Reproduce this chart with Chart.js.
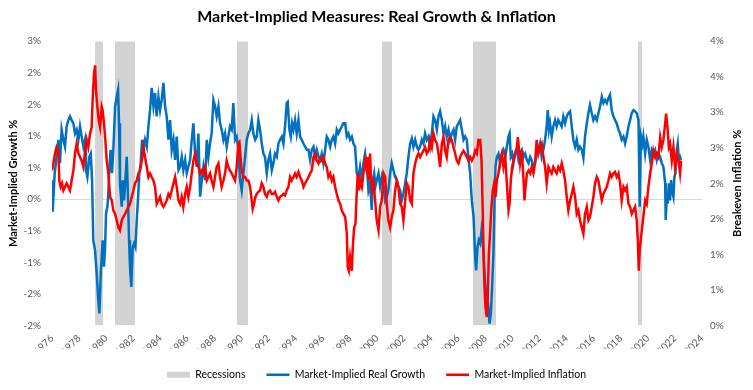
<!DOCTYPE html>
<html>
<head>
<meta charset="utf-8">
<title>Market-Implied Measures</title>
<script src="https://cdn.jsdelivr.net/npm/chart.js@4.4.1/dist/chart.umd.min.js"></script>
<style>
  html, body { margin: 0; padding: 0; background: #fff; }
  #chart { display: block; }
</style>
</head>
<body>
<canvas id="chart" width="753" height="390"></canvas>
<script>
// recession bands, as placed on the chart's year axis
const recessionStart = [1979.18, 1980.65, 1989.66, 2000.37, 2007.09, 2019.28];
const recessionEnd   = [1979.77, 1982.13, 1990.47, 2001.11, 2008.79, 2019.58];

// market-implied real growth (%), left axis
const growthYears = [
  1976.00, 1976.05, 1976.20, 1976.34, 1976.47, 1976.59, 1976.71, 1976.84, 1976.96, 1977.08,
  1977.21, 1977.33, 1977.45, 1977.58, 1977.70, 1977.82, 1977.95, 1978.07, 1978.19, 1978.32,
  1978.44, 1978.51, 1978.61, 1978.76, 1978.86, 1978.96, 1979.05, 1979.18, 1979.30, 1979.42,
  1979.50, 1979.60, 1979.67, 1979.74, 1979.84, 1979.92, 1979.99, 1980.09, 1980.16, 1980.24,
  1980.33, 1980.43, 1980.53, 1980.66, 1980.78, 1980.88, 1980.95, 1981.02, 1981.15, 1981.22,
  1981.32, 1981.42, 1981.52, 1981.61, 1981.69, 1981.76, 1981.86, 1981.96, 1982.06, 1982.16,
  1982.26, 1982.36, 1982.45, 1982.55, 1982.65, 1982.75, 1982.87, 1983.00, 1983.12, 1983.24,
  1983.36, 1983.49, 1983.61, 1983.73, 1983.86, 1983.98, 1984.10, 1984.23, 1984.35, 1984.47,
  1984.60, 1984.72, 1984.84, 1984.97, 1985.09, 1985.21, 1985.34, 1985.46, 1985.58, 1985.70,
  1985.83, 1985.95, 1986.07, 1986.20, 1986.32, 1986.44, 1986.57, 1986.69, 1986.81, 1986.94,
  1987.06, 1987.18, 1987.31, 1987.43, 1987.55, 1987.67, 1987.79, 1987.92, 1988.04, 1988.16,
  1988.29, 1988.41, 1988.53, 1988.66, 1988.78, 1988.90, 1989.02, 1989.15, 1989.27, 1989.39,
  1989.52, 1989.64, 1989.76, 1989.89, 1990.01, 1990.13, 1990.26, 1990.38, 1990.50, 1990.63,
  1990.75, 1990.87, 1991.00, 1991.12, 1991.24, 1991.36, 1991.49, 1991.61, 1991.73, 1991.86,
  1991.98, 1992.10, 1992.23, 1992.35, 1992.47, 1992.60, 1992.72, 1992.84, 1992.97, 1993.09,
  1993.21, 1993.33, 1993.41, 1993.53, 1993.63, 1993.73, 1993.83, 1993.95, 1994.07, 1994.20,
  1994.32, 1994.44, 1994.57, 1994.69, 1994.81, 1994.94, 1995.06, 1995.18, 1995.31, 1995.43,
  1995.55, 1995.68, 1995.80, 1995.92, 1996.04, 1996.17, 1996.29, 1996.41, 1996.54, 1996.66,
  1996.78, 1996.91, 1997.03, 1997.15, 1997.28, 1997.40, 1997.52, 1997.65, 1997.77, 1997.89,
  1998.01, 1998.14, 1998.26, 1998.38, 1998.51, 1998.63, 1998.75, 1998.88, 1999.00, 1999.12,
  1999.25, 1999.37, 1999.49, 1999.61, 1999.69, 1999.79, 1999.88, 1999.98, 2000.11, 2000.23,
  2000.35, 2000.48, 2000.60, 2000.72, 2000.84, 2000.97, 2001.09, 2001.21, 2001.34, 2001.46,
  2001.58, 2001.71, 2001.83, 2001.95, 2002.08, 2002.20, 2002.32, 2002.45, 2002.57, 2002.69,
  2002.82, 2002.94, 2003.06, 2003.18, 2003.31, 2003.43, 2003.55, 2003.68, 2003.80, 2003.92,
  2004.05, 2004.17, 2004.29, 2004.42, 2004.54, 2004.66, 2004.79, 2004.91, 2005.03, 2005.15,
  2005.28, 2005.40, 2005.52, 2005.65, 2005.77, 2005.89, 2006.02, 2006.14, 2006.26, 2006.39,
  2006.51, 2006.63, 2006.76, 2006.88, 2007.00, 2007.13, 2007.25, 2007.32, 2007.42, 2007.52,
  2007.62, 2007.72, 2007.81, 2007.91, 2008.01, 2008.11, 2008.23, 2008.31, 2008.41, 2008.50,
  2008.60, 2008.68, 2008.75, 2008.85, 2008.97, 2009.10, 2009.22, 2009.34, 2009.47, 2009.59,
  2009.71, 2009.79, 2009.88, 2009.98, 2010.08, 2010.20, 2010.33, 2010.45, 2010.57, 2010.70,
  2010.82, 2010.94, 2011.07, 2011.19, 2011.31, 2011.42, 2011.55, 2011.67, 2011.79, 2011.92,
  2012.04, 2012.16, 2012.29, 2012.41, 2012.53, 2012.61, 2012.70, 2012.78, 2012.90, 2013.02,
  2013.15, 2013.27, 2013.39, 2013.52, 2013.64, 2013.76, 2013.89, 2014.01, 2014.13, 2014.26,
  2014.38, 2014.50, 2014.63, 2014.75, 2014.87, 2014.99, 2015.12, 2015.24, 2015.36, 2015.49,
  2015.61, 2015.73, 2015.86, 2015.98, 2016.10, 2016.23, 2016.35, 2016.47, 2016.60, 2016.72,
  2016.84, 2016.97, 2017.09, 2017.21, 2017.33, 2017.46, 2017.58, 2017.70, 2017.83, 2017.95,
  2018.07, 2018.20, 2018.32, 2018.44, 2018.57, 2018.69, 2018.81, 2018.94, 2019.06, 2019.18,
  2019.31, 2019.35, 2019.40, 2019.45, 2019.50, 2019.60, 2019.67, 2019.80, 2019.92, 2020.04,
  2020.17, 2020.29, 2020.41, 2020.54, 2020.66, 2020.78, 2020.91, 2021.03, 2021.15, 2021.28,
  2021.32, 2021.40, 2021.47, 2021.55, 2021.64, 2021.72, 2021.79, 2021.89, 2021.96, 2022.04,
  2022.14, 2022.21, 2022.29, 2022.38, 2022.46
];
const growthValues = [
  0.30, -0.20, 0.41, 0.67, 0.94, 0.57, 1.10, 0.94, 0.83, 1.15,
  1.25, 1.31, 1.25, 1.20, 1.04, 1.10, 0.94, 1.15, 0.99, 0.83,
  0.94, 0.46, 0.35, 0.67, 0.72, 0.30, -0.65, -0.81, -1.18, -1.60,
  -1.81, -1.18, -0.92, -0.65, -1.07, -0.76, -0.23, -0.12, 0.09, 0.51,
  0.78, 0.41, 0.78, 1.47, 1.62, 1.73, 1.20, 0.25, -0.12, 0.30,
  -0.02, 0.30, 0.67, 0.04, -0.65, -1.07, -1.39, -0.76, -0.70, -0.76,
  -0.33, 0.04, 0.41, 0.57, 0.94, 0.78, 0.94, 0.83, 1.15, 1.41,
  1.76, 1.47, 1.68, 1.31, 1.62, 1.41, 1.57, 1.84, 1.47, 1.31,
  0.94, 1.25, 0.78, 0.94, 0.62, 0.99, 0.46, 0.51, 0.67, 0.46,
  0.62, 0.41, 0.51, 0.62, 0.94, 1.20, 0.72, 0.51, 1.04, 0.04,
  0.30, 0.51, 0.30, 0.94, 0.67, 0.88, 1.04, 1.57, 1.47, 1.31,
  1.47, 1.20, 1.10, 0.94, 1.04, 0.83, 0.99, 1.15, 1.10, 1.52,
  0.94, 0.99, 0.78, 0.30, 0.14, 0.41, 0.67, 0.94, 1.04, 1.10,
  1.25, 1.04, 0.94, 0.99, 1.25, 1.10, 0.88, 0.72, 0.67, 0.41,
  0.62, 0.72, 0.46, 0.57, 0.72, 0.67, 0.88, 0.94, 0.99, 0.88,
  1.15, 1.52, 1.54, 1.10, 0.99, 1.20, 1.10, 1.25, 1.04, 1.25,
  0.99, 0.94, 0.88, 0.83, 0.78, 0.78, 0.62, 0.78, 0.83, 0.67,
  0.78, 0.67, 0.62, 0.72, 0.57, 0.78, 0.99, 0.94, 0.83, 0.94,
  0.99, 0.88, 1.10, 1.04, 1.10, 1.15, 1.20, 1.20, 0.99, 1.04,
  0.94, 0.99, 0.88, 0.83, 0.41, 0.35, 0.51, 0.30, 0.57, 0.72,
  0.51, 0.14, 0.25, -0.17, 0.30, 0.41, 0.20, 0.30, 0.41, 0.20,
  0.35, 0.20, -0.02, 0.04, 0.14, 0.41, 0.57, 0.46, 0.35, 0.30,
  0.20, 0.14, -0.02, 0.09, 0.25, 0.41, 0.67, 0.88, 0.96, 0.83,
  0.94, 0.83, 0.78, 0.83, 0.94, 0.88, 1.04, 0.94, 0.99, 0.83,
  1.04, 1.31, 1.25, 1.10, 1.31, 1.39, 1.25, 1.04, 1.15, 0.99,
  1.10, 0.94, 1.04, 1.10, 0.94, 1.15, 1.20, 1.25, 1.10, 0.94,
  0.99, 0.94, 0.62, 0.41, -0.02, -0.28, -0.92, -1.13, -0.76, -0.65,
  -0.70, -0.49, -0.65, -1.07, -1.39, -1.50, -1.71, -1.97, -1.81, -1.39,
  -0.86, -0.02, 0.51, 0.67, 0.72, 0.57, 0.72, 0.78, 0.67, 0.83,
  0.99, 1.04, 0.67, 0.72, 0.57, 0.72, 0.78, 0.62, 0.72, 0.78,
  0.67, 0.72, 0.62, 0.57, 0.67, 0.62, 0.51, 0.57, 0.72, 0.78,
  0.88, 0.67, 0.78, 0.94, 1.15, 1.41, 1.10, 1.20, 0.99, 1.15,
  1.25, 1.15, 1.25, 1.20, 1.15, 1.31, 1.20, 1.31, 1.36, 1.39,
  1.15, 0.94, 0.83, 0.94, 0.78, 0.83, 0.78, 0.65, 0.99, 1.20,
  1.36, 1.49, 1.36, 1.25, 1.31, 1.25, 1.36, 1.47, 1.62, 1.52,
  1.57, 1.52, 1.60, 1.65, 1.41, 1.31, 1.25, 1.20, 1.10, 1.04,
  0.94, 0.99, 0.88, 0.99, 1.15, 1.25, 1.36, 1.41, 1.39, 1.36,
  1.25, 0.67, -0.12, 0.57, 0.99, 0.88, 0.99, 0.72, 0.94, 0.83,
  0.62, 0.78, 0.72, 0.78, 0.62, 0.72, 0.67, 0.57, 0.51, 0.25,
  -0.33, 0.04, -0.07, 0.25, -0.02, 0.30, 0.14, 0.04, 0.35, 0.41,
  0.78, 0.88, 0.62, 0.67, 0.62
];

// market-implied (breakeven) inflation (%), right axis
const inflationYears = [
  1976.00, 1976.10, 1976.22, 1976.34, 1976.47, 1976.54, 1976.64, 1976.74, 1976.84, 1976.96,
  1977.08, 1977.21, 1977.33, 1977.45, 1977.58, 1977.70, 1977.82, 1977.95, 1978.07, 1978.19,
  1978.32, 1978.44, 1978.56, 1978.68, 1978.81, 1978.93, 1979.00, 1979.10, 1979.18, 1979.25,
  1979.35, 1979.45, 1979.55, 1979.67, 1979.74, 1979.84, 1979.94, 1980.04, 1980.16, 1980.29,
  1980.41, 1980.53, 1980.66, 1980.78, 1980.90, 1981.02, 1981.15, 1981.27, 1981.40, 1981.52,
  1981.64, 1981.76, 1981.89, 1982.01, 1982.13, 1982.26, 1982.38, 1982.50, 1982.63, 1982.75,
  1982.87, 1983.00, 1983.12, 1983.24, 1983.36, 1983.49, 1983.61, 1983.73, 1983.86, 1983.98,
  1984.10, 1984.23, 1984.35, 1984.47, 1984.60, 1984.72, 1984.84, 1984.97, 1985.09, 1985.21,
  1985.34, 1985.46, 1985.58, 1985.70, 1985.83, 1985.95, 1986.07, 1986.20, 1986.32, 1986.44,
  1986.57, 1986.69, 1986.81, 1986.94, 1987.06, 1987.18, 1987.31, 1987.43, 1987.55, 1987.67,
  1987.79, 1987.92, 1988.04, 1988.16, 1988.29, 1988.41, 1988.53, 1988.66, 1988.78, 1988.90,
  1989.02, 1989.15, 1989.27, 1989.39, 1989.52, 1989.64, 1989.76, 1989.84, 1989.94, 1990.01,
  1990.13, 1990.26, 1990.38, 1990.50, 1990.63, 1990.75, 1990.82, 1990.92, 1991.02, 1991.12,
  1991.24, 1991.36, 1991.49, 1991.61, 1991.73, 1991.86, 1991.98, 1992.10, 1992.23, 1992.35,
  1992.47, 1992.60, 1992.72, 1992.84, 1992.97, 1993.09, 1993.21, 1993.33, 1993.46, 1993.58,
  1993.70, 1993.83, 1993.95, 1994.07, 1994.20, 1994.32, 1994.44, 1994.57, 1994.69, 1994.81,
  1994.94, 1995.06, 1995.18, 1995.31, 1995.43, 1995.55, 1995.68, 1995.80, 1995.92, 1996.04,
  1996.17, 1996.29, 1996.41, 1996.54, 1996.66, 1996.78, 1996.91, 1997.03, 1997.15, 1997.28,
  1997.40, 1997.52, 1997.65, 1997.77, 1997.84, 1997.92, 1998.01, 1998.14, 1998.21, 1998.31,
  1998.41, 1998.51, 1998.58, 1998.68, 1998.75, 1998.88, 1999.00, 1999.12, 1999.20, 1999.30,
  1999.39, 1999.49, 1999.56, 1999.64, 1999.74, 1999.86, 1999.98, 2000.11, 2000.23, 2000.35,
  2000.48, 2000.60, 2000.72, 2000.84, 2000.97, 2001.09, 2001.21, 2001.34, 2001.46, 2001.58,
  2001.71, 2001.83, 2001.95, 2002.08, 2002.20, 2002.32, 2002.45, 2002.57, 2002.69, 2002.82,
  2002.94, 2003.06, 2003.18, 2003.31, 2003.43, 2003.55, 2003.68, 2003.80, 2003.92, 2004.05,
  2004.17, 2004.29, 2004.42, 2004.54, 2004.66, 2004.79, 2004.91, 2005.03, 2005.15, 2005.28,
  2005.40, 2005.52, 2005.65, 2005.77, 2005.89, 2006.02, 2006.14, 2006.26, 2006.39, 2006.51,
  2006.63, 2006.76, 2006.88, 2007.00, 2007.13, 2007.25, 2007.37, 2007.49, 2007.62, 2007.72,
  2007.79, 2007.86, 2007.94, 2008.01, 2008.11, 2008.18, 2008.26, 2008.36, 2008.45, 2008.55,
  2008.65, 2008.75, 2008.85, 2008.97, 2009.10, 2009.22, 2009.34, 2009.47, 2009.59, 2009.71,
  2009.79, 2009.88, 2009.98, 2010.08, 2010.20, 2010.33, 2010.40, 2010.50, 2010.57, 2010.70,
  2010.82, 2010.89, 2010.97, 2011.07, 2011.19, 2011.31, 2011.42, 2011.55, 2011.67, 2011.79,
  2011.92, 2012.04, 2012.16, 2012.29, 2012.41, 2012.53, 2012.66, 2012.78, 2012.90, 2013.02,
  2013.15, 2013.27, 2013.39, 2013.52, 2013.64, 2013.76, 2013.89, 2014.01, 2014.13, 2014.26,
  2014.38, 2014.50, 2014.63, 2014.75, 2014.87, 2014.99, 2015.12, 2015.24, 2015.36, 2015.49,
  2015.61, 2015.73, 2015.86, 2015.98, 2016.10, 2016.23, 2016.35, 2016.47, 2016.60, 2016.72,
  2016.84, 2016.97, 2017.09, 2017.21, 2017.33, 2017.46, 2017.58, 2017.70, 2017.83, 2017.95,
  2018.07, 2018.20, 2018.32, 2018.44, 2018.57, 2018.69, 2018.81, 2018.94, 2019.06, 2019.18,
  2019.26, 2019.33, 2019.40, 2019.48, 2019.58, 2019.67, 2019.80, 2019.92, 2020.04, 2020.17,
  2020.29, 2020.41, 2020.54, 2020.66, 2020.78, 2020.91, 2021.03, 2021.15, 2021.28, 2021.35,
  2021.45, 2021.55, 2021.64, 2021.77, 2021.89, 2022.01, 2022.14, 2022.26, 2022.38, 2022.46
];
const inflationValues = [
  2.18, 2.28, 2.42, 2.51, 2.46, 2.04, 1.95, 2.00, 1.90, 1.95,
  2.00, 1.95, 1.90, 2.04, 2.18, 2.42, 2.56, 2.42, 2.37, 2.32,
  2.23, 2.46, 2.61, 2.51, 2.70, 2.79, 3.17, 3.54, 3.66, 3.31,
  3.08, 2.89, 2.79, 3.08, 3.03, 2.84, 2.61, 2.32, 2.14, 1.81,
  1.76, 1.62, 1.57, 1.48, 1.38, 1.34, 1.48, 1.53, 1.57, 1.62,
  1.67, 1.71, 1.81, 1.90, 2.00, 2.04, 2.14, 2.18, 2.32, 2.51,
  2.37, 2.23, 2.09, 2.14, 2.09, 2.04, 1.95, 1.71, 1.76, 1.81,
  1.71, 1.67, 1.71, 1.76, 1.85, 1.81, 1.90, 2.00, 2.09, 1.95,
  1.76, 1.71, 1.81, 1.67, 1.85, 1.95, 1.81, 1.95, 2.14, 2.32,
  2.42, 2.28, 2.23, 2.14, 2.18, 2.14, 2.23, 2.04, 2.09, 2.14,
  2.04, 1.95, 2.09, 2.23, 2.28, 2.09, 1.95, 2.04, 2.14, 2.32,
  2.23, 2.18, 2.14, 2.09, 2.04, 2.23, 2.56, 2.58, 2.32, 2.18,
  2.09, 2.09, 2.04, 2.04, 1.95, 1.76, 1.64, 1.71, 1.81, 1.85,
  1.88, 1.90, 2.00, 1.95, 1.85, 1.81, 1.88, 1.90, 1.85, 1.85,
  1.88, 1.81, 1.76, 1.81, 1.83, 1.85, 1.83, 1.90, 1.95, 2.09,
  2.04, 2.09, 2.14, 2.09, 2.16, 2.09, 2.04, 1.95, 2.00, 2.04,
  2.09, 2.14, 2.18, 2.37, 2.42, 2.32, 2.28, 2.35, 2.32, 2.37,
  2.28, 2.23, 2.09, 2.14, 2.04, 2.09, 1.95, 1.85, 1.76, 1.71,
  1.62, 1.57, 1.53, 1.29, 0.82, 0.77, 0.96, 0.77, 1.10, 1.38,
  1.43, 1.90, 2.14, 1.90, 2.04, 1.95, 2.14, 2.32, 2.23, 2.37,
  2.04, 2.42, 2.04, 1.90, 2.00, 1.76, 1.48, 1.34, 1.67, 1.76,
  2.14, 2.09, 1.71, 1.48, 1.38, 1.53, 1.62, 1.90, 2.04, 1.95,
  1.71, 1.67, 1.48, 1.76, 2.00, 1.95, 1.76, 1.71, 2.14, 2.28,
  2.37, 2.42, 2.37, 2.42, 2.46, 2.51, 2.42, 2.46, 2.61, 2.51,
  2.70, 2.61, 2.56, 2.42, 2.23, 2.56, 2.65, 2.46, 2.37, 2.61,
  2.65, 2.61, 2.51, 2.42, 2.32, 2.28, 2.37, 2.42, 2.46, 2.42,
  2.37, 2.32, 2.37, 2.32, 2.37, 2.46, 2.42, 2.61, 2.61, 2.32,
  1.76, 1.10, 0.54, 0.26, 0.12, 0.40, 1.01, 1.34, 1.67, 1.90,
  2.00, 1.81, 2.04, 2.14, 2.32, 2.42, 2.23, 2.37, 2.00, 1.62,
  1.71, 2.04, 2.23, 2.32, 2.42, 2.51, 2.65, 2.46, 2.28, 2.46,
  2.04, 1.76, 1.95, 2.14, 2.18, 2.14, 2.23, 2.14, 2.28, 2.61,
  2.42, 2.51, 2.56, 2.37, 2.23, 2.00, 2.23, 2.18, 2.14, 2.23,
  2.18, 2.14, 2.23, 2.18, 2.28, 2.18, 2.04, 1.81, 1.62, 1.76,
  1.85, 1.95, 1.81, 1.57, 1.62, 1.48, 1.38, 1.29, 1.57, 1.67,
  1.48, 1.53, 1.67, 1.81, 2.00, 2.09, 2.04, 1.90, 1.76, 1.85,
  1.90, 1.95, 2.04, 2.14, 2.09, 2.14, 2.16, 2.09, 2.14, 2.00,
  1.76, 1.95, 1.90, 1.95, 1.71, 1.67, 1.57, 1.62, 1.67, 1.48,
  1.20, 0.77, 1.06, 1.20, 1.38, 1.53, 1.76, 1.71, 1.95, 2.14,
  2.28, 2.46, 2.37, 2.42, 2.37, 2.65, 2.51, 2.61, 2.84, 2.98,
  2.79, 2.51, 2.56, 2.32, 2.51, 2.23, 2.42, 2.32, 2.14, 2.32
];

const chartTitle = 'Market-Implied Measures: Real Growth & Inflation';
const leftTitle = 'Market-Implied Growth %';
const rightTitleText = 'Breakeven Inflation %';
const seriesLabels = ['Recessions', 'Market-Implied Real Growth', 'Market-Implied Inflation'];

// build the data for the library
var recessionData = [];
for (var i = 0; i < recessionStart.length; i++) {
    recessionData.push({x: recessionStart[i], y: 0});
    recessionData.push({x: recessionStart[i], y: 1});
    recessionData.push({x: recessionEnd[i], y: 1});
    recessionData.push({x: recessionEnd[i], y: 0});
}
var growthData = growthYears.map(function (yr, i) { return {x: yr, y: growthValues[i]}; });
var inflationData = inflationYears.map(function (yr, i) { return {x: yr, y: inflationValues[i]}; });

// excel style "0%" format: halves round away from zero
function pct(v) {
    var r = Math.sign(v) * Math.round(Math.abs(v) + 1e-9);
    if (r === 0) r = 0;
    return r + '%';
}

// right axis title reads bottom-to-top like the left one
var rightTitle = {
    id: 'rightTitle',
    afterDraw: function (chart) {
        var ctx = chart.ctx;
        var area = chart.chartArea;
        var sc = chart.scales.y1;
        ctx.save();
        ctx.translate(sc.right - 16, (area.top + area.bottom) / 2);
        ctx.rotate(-Math.PI / 2);
        ctx.font = 'bold 11px Lato';
        ctx.fillStyle = '#000';
        ctx.textAlign = 'center';
        ctx.textBaseline = 'middle';
        ctx.fillText(rightTitleText, 0, 0);
        ctx.restore();
    }
};

Chart.defaults.font.family = 'Lato';

var tickColor = '#595959';

var myChart = new Chart(document.getElementById('chart'), {
    type: 'line',
    data: {
        datasets: [
            {
                label: seriesLabels[0],
                data: recessionData,
                yAxisID: 'yRec',
                backgroundColor: '#d3d3d3',
                borderColor: 'rgba(0,0,0,0)',
                borderWidth: 0,
                fill: 'start',
                pointRadius: 0,
                pointStyle: 'rect',
                order: 3
            },
            {
                label: seriesLabels[1],
                data: growthData,
                yAxisID: 'y',
                borderColor: '#0070c0',
                backgroundColor: '#0070c0',
                borderWidth: 2.5,
                pointRadius: 0,
                pointStyle: 'line',
                fill: false,
                tension: 0,
                order: 2
            },
            {
                label: seriesLabels[2],
                data: inflationData,
                yAxisID: 'y1',
                borderColor: '#ff0000',
                backgroundColor: '#ff0000',
                borderWidth: 2.5,
                pointRadius: 0,
                pointStyle: 'line',
                fill: false,
                tension: 0,
                order: 1
            }
        ]
    },
    options: {
        responsive: false,
        animation: false,
        events: [],
        layout: { padding: 0 },
        plugins: {
            title: {
                display: true,
                text: chartTitle,
                color: '#000',
                font: { size: 16, weight: 'bold' },
                padding: { top: 7, bottom: 15 }
            },
            legend: {
                position: 'bottom',
                labels: {
                    usePointStyle: true,
                    pointStyleWidth: 23,
                    boxHeight: 6,
                    padding: 21,
                    color: '#000',
                    font: { size: 10.5 },
                    sort: function (a, b) { return a.datasetIndex - b.datasetIndex; }
                }
            },
            tooltip: { enabled: false }
        },
        scales: {
            x: {
                type: 'linear',
                min: 1976,
                max: 2024,
                grid: { display: false, drawTicks: false },
                border: { display: false },
                ticks: {
                    stepSize: 2,
                    minRotation: 45,
                    maxRotation: 45,
                    padding: 7,
                    color: tickColor,
                    font: { size: 10 },
                    callback: function (v) { return String(v); }
                },
                afterFit: function (s) { s.height = 23; }
            },
            y: {
                position: 'left',
                min: -2,
                max: 2.5,
                grid: {
                    drawTicks: false,
                    color: function (c) { return c.tick && c.tick.value === 0 ? '#d9d9d9' : 'rgba(0,0,0,0)'; }
                },
                border: { display: false },
                ticks: {
                    stepSize: 0.5,
                    padding: 11,
                    color: tickColor,
                    font: { size: 10 },
                    callback: pct
                },
                title: {
                    display: true,
                    text: leftTitle,
                    color: '#000',
                    font: { size: 11, weight: 'bold' },
                    padding: { top: 7, bottom: 0 }
                },
                afterFit: function (s) { s.width = 52; }
            },
            y1: {
                position: 'right',
                min: 0,
                max: 4,
                grid: { display: false, drawTicks: false },
                border: { display: false },
                ticks: {
                    stepSize: 0.5,
                    padding: 8,
                    color: tickColor,
                    font: { size: 10 },
                    callback: pct
                },
                afterFit: function (s) { s.width = 51; }
            },
            yRec: {
                display: false,
                min: 0,
                max: 1
            }
        }
    },
    plugins: [rightTitle]
});
</script>
</body>
</html>
